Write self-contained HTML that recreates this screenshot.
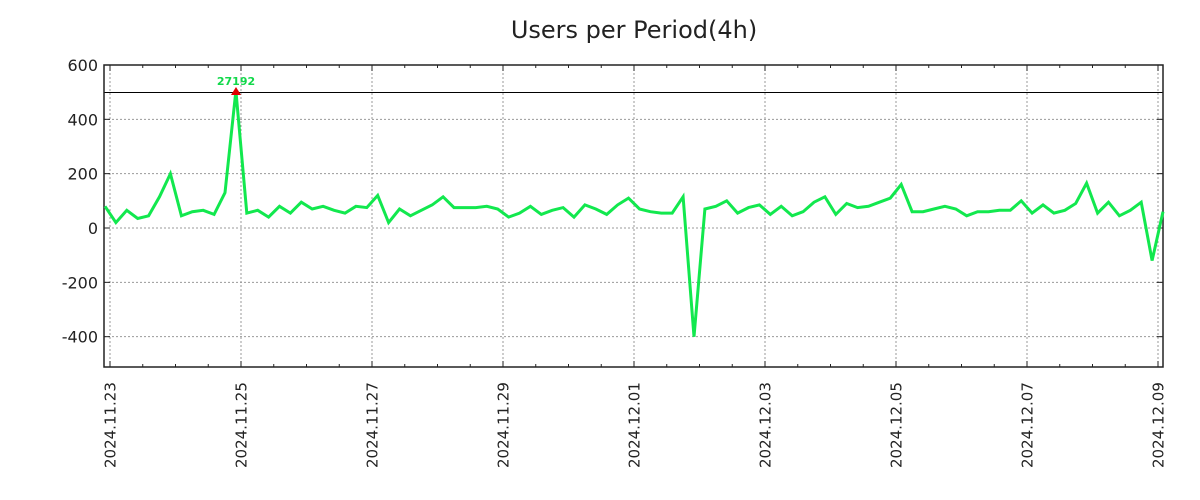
<!DOCTYPE html>
<html><head><meta charset="utf-8"><style>
html,body{margin:0;padding:0;background:#fff;}
svg{display:block;font-family:"DejaVu Sans","Liberation Sans",sans-serif;}
</style></head><body>
<svg id="c" width="1200" height="500" xmlns="http://www.w3.org/2000/svg">
<rect width="1200" height="500" fill="#fff"/>
<text x="634" y="38" font-size="24" text-anchor="middle" fill="#222">Users per Period(4h)</text>
<g id="grid" stroke="#999" stroke-width="1" stroke-dasharray="2,2"></g>
<line x1="104" y1="92.5" x2="1163" y2="92.5" stroke="#000" stroke-width="1" shape-rendering="crispEdges"/>
<g id="ticks" stroke="#222" stroke-width="1"></g>
<rect x="104" y="65" width="1059" height="302" fill="none" stroke="#222" stroke-width="1.5"/>
<g id="ylab" font-size="16" fill="#222" text-anchor="end"></g>
<g id="xlab" font-size="15" fill="#222"></g>
<polyline id="ln" fill="none" stroke="#12e84e" stroke-width="3" stroke-linejoin="miter"/>
<polygon points="231,95 241,95 236,87" fill="#e00000"/>
<text x="236" y="85" font-size="11" fill="#12d84a" text-anchor="middle" font-weight="bold">27192</text>
</svg>
<script>
var ns="http://www.w3.org/2000/svg";
function el(p,t,a,txt){var e=document.createElementNS(ns,t);for(var k in a)e.setAttribute(k,a[k]);if(txt)e.textContent=txt;document.getElementById(p).appendChild(e);}
function Y(v){return 228-v*0.2717;}
var ys=[600,400,200,0,-200,-400];
ys.forEach(function(v){var y=Y(v);
 if(v!=600){el("grid","line",{x1:104,x2:1163,y1:y,y2:y});}
 el("ticks","line",{x1:104,x2:110,y1:y,y2:y});el("ticks","line",{x1:1157,x2:1163,y1:y,y2:y});
 el("ylab","text",{x:98,y:y+6},String(v));});
var labels=["2024.11.23","2024.11.25","2024.11.27","2024.11.29","2024.12.01","2024.12.03","2024.12.05","2024.12.07","2024.12.09"];
for(var i=0;i<9;i++){var x=110+i*131;
 el("grid","line",{x1:x,x2:x,y1:65,y2:367});
 el("ticks","line",{x1:x,x2:x,y1:361,y2:367});el("ticks","line",{x1:x,x2:x,y1:65,y2:71});
 el("xlab","text",{transform:"translate("+(x+5.5)+",468) rotate(-90)"},labels[i]);}
for(var j=0;j<33;j++){var x=110+j*32.75;if(x>1163)break;
 el("ticks","line",{x1:x,x2:x,y1:364,y2:367});el("ticks","line",{x1:x,x2:x,y1:65,y2:68});}
var d=[80,20,65,35,45,115,200,45,60,65,50,130,505,55,65,40,80,55,95,70,80,65,55,80,75,120,20,70,45,65,85,115,75,75,75,80,70,40,55,80,50,65,75,40,85,70,50,85,110,70,60,55,55,115,-400,70,80,100,55,75,85,50,80,45,60,95,115,50,90,75,80,95,110,160,60,60,70,80,70,45,60,60,65,65,100,55,85,55,65,90,165,55,95,45,65,95,-120,60];
var pts=d.map(function(v,i){return (105+i*(1163-105)/(d.length-1)).toFixed(1)+","+Y(v).toFixed(1);});
document.getElementById("ln").setAttribute("points",pts.join(" "));
</script>
</body></html>
